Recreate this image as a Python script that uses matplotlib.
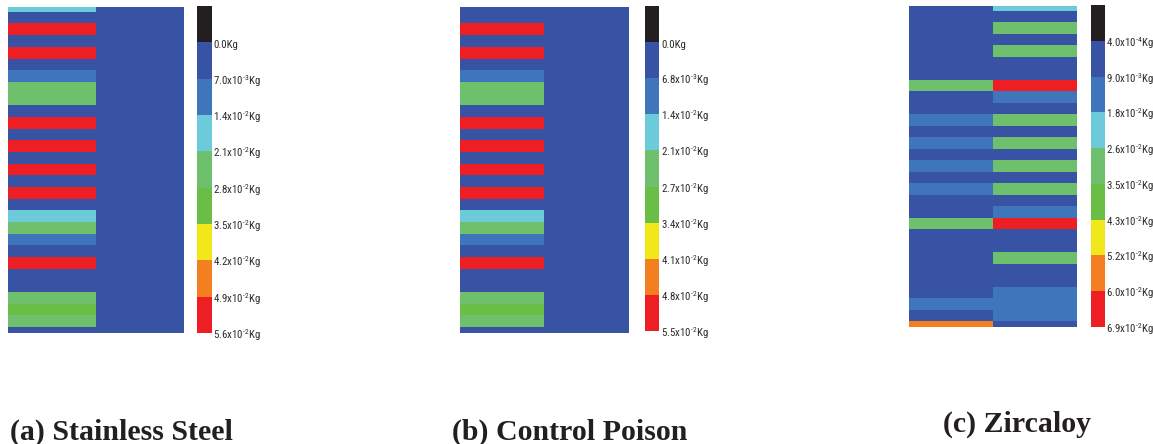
import matplotlib
matplotlib.use("Agg")
import matplotlib.pyplot as plt
import numpy as np
from matplotlib import font_manager
from matplotlib.colors import ListedColormap, BoundaryNorm
from matplotlib.cm import ScalarMappable

# level colours, lowest (empty) to highest
level_colors = ['#231f20', '#3853a4', '#3f75ba', '#6ccbdb', '#6fc06c',
                '#6abd45', '#f0e81a', '#f47f20', '#ed1e24']

# colour bar boundaries (kg) for each material
steel_levels = [-7.0e-3, 0.0, 7.0e-3, 1.4e-2, 2.1e-2, 2.8e-2, 3.5e-2, 4.2e-2, 4.9e-2, 5.6e-2]
poison_levels = [-6.8e-3, 0.0, 6.8e-3, 1.4e-2, 2.1e-2, 2.7e-2, 3.4e-2, 4.1e-2, 4.8e-2, 5.5e-2]
zirc_levels = [-8.2e-3, 4.0e-4, 9.0e-3, 1.8e-2, 2.6e-2, 3.5e-2, 4.3e-2, 5.2e-2, 6.0e-2, 6.9e-2]

# mass per cell (kg), rows top to bottom, left and right column
steel_left = [0.018, 0.003, 0.053, 0.003, 0.053, 0.003, 0.010, 0.025, 0.025, 0.003,
              0.053, 0.003, 0.053, 0.003, 0.053, 0.003, 0.053, 0.003, 0.018, 0.025,
              0.010, 0.003, 0.053, 0.003, 0.003, 0.025, 0.031, 0.025, 0.003]
steel_right = [0.003] * 29

poison_left = [0.003, 0.003, 0.052, 0.003, 0.052, 0.003, 0.010, 0.024, 0.024, 0.003,
               0.052, 0.003, 0.052, 0.003, 0.052, 0.003, 0.052, 0.003, 0.017, 0.024,
               0.010, 0.003, 0.052, 0.003, 0.003, 0.024, 0.030, 0.024, 0.003]
poison_right = [0.003] * 29

zirc_left = [0.004, 0.004, 0.004, 0.004, 0.004, 0.004, 0.004, 0.030, 0.004, 0.004,
             0.013, 0.004, 0.013, 0.004, 0.013, 0.004, 0.013, 0.004, 0.004, 0.030,
             0.004, 0.004, 0.004, 0.004, 0.004, 0.004, 0.013, 0.004, 0.056]
zirc_right = [0.022, 0.004, 0.030, 0.004, 0.030, 0.004, 0.004, 0.064, 0.013, 0.004,
              0.030, 0.004, 0.030, 0.004, 0.030, 0.004, 0.030, 0.004, 0.013, 0.064,
              0.004, 0.004, 0.030, 0.004, 0.004, 0.013, 0.013, 0.013, 0.004]

titles = ['(a) Stainless Steel', '(b) Control Poison', '(c) Zircaloy']

W, H = 1153, 444


def pick_label_font():
    # prefer a narrow sans for the colour bar labels, else plain Liberation Sans a bit smaller
    for name, size in [('Liberation Sans Narrow', 8.0), ('Arial Narrow', 8.0),
                       ('Roboto Condensed', 7.8)]:
        try:
            font_manager.findfont(font_manager.FontProperties(family=name),
                                  fallback_to_default=False)
            return name, size
        except ValueError:
            pass
    return 'Liberation Sans', 6.6


label_family, label_size = pick_label_font()
plt.rcParams['font.family'] = [label_family, 'DejaVu Sans']
plt.rcParams['mathtext.fontset'] = 'custom'
plt.rcParams['mathtext.rm'] = label_family
plt.rcParams['mathtext.default'] = 'regular'

fig = plt.figure(figsize=(W / 100, H / 100), dpi=100)


def px_axes(x0, y0, x1, y1):
    # pixel box measured from the top-left corner
    return fig.add_axes([x0 / W, 1 - y1 / H, (x1 - x0) / W, (y1 - y0) / H])


def kg_label(v):
    if v == 0:
        return '0.0Kg'
    mant, exp = f'{v:.1e}'.split('e')
    return r'$\mathregular{%sx10^{\text{%d}}Kg}$' % (mant, int(exp))


def draw_panel(left, right, levels, box, cbox, label_x, title, title_xy):
    cmap = ListedColormap(level_colors)
    norm = BoundaryNorm(levels, cmap.N)
    grid = np.column_stack([left, right])

    ax = px_axes(*box)
    ax.imshow(grid, cmap=cmap, norm=norm, aspect='auto', interpolation='nearest')
    ax.set_ylim(len(left) - 1, 0)
    ax.axis('off')

    cax = px_axes(*cbox)
    cb = fig.colorbar(ScalarMappable(norm=norm, cmap=cmap), cax=cax,
                      boundaries=levels, spacing='uniform')
    cb.outline.set_visible(False)
    cb.set_ticks([])
    cax.minorticks_off()
    cax.tick_params(length=0, labelright=False)
    cax.invert_yaxis()

    # level labels just right of the bar, a little below each boundary
    n = len(levels) - 1
    y0, y1 = cbox[1], cbox[3]
    for i, v in enumerate(levels[1:]):
        y = y0 + (y1 - y0) * (i + 1) / n + 6.0
        fig.text(label_x / W, 1 - y / H, kg_label(v), fontsize=label_size,
                 color='#2b2b2b', va='baseline', ha='left')

    fig.text(title_xy[0] / W, 1 - title_xy[1] / H, title, family='Liberation Serif',
             fontweight='bold', fontsize=21.5, va='baseline', ha='left', color='#231f20')


draw_panel(steel_left, steel_right, steel_levels, (8, 7, 184, 333), (197, 6, 212, 333),
           213, titles[0], (10, 440))
draw_panel(poison_left, poison_right, poison_levels, (460, 7, 629, 333), (645, 6, 659, 331),
           661, titles[1], (452, 440))
draw_panel(zirc_left, zirc_right, zirc_levels, (909, 6, 1076, 327), (1091, 5, 1105, 327),
           1106, titles[2], (943, 432))

fig.savefig('out.png', dpi=100)
